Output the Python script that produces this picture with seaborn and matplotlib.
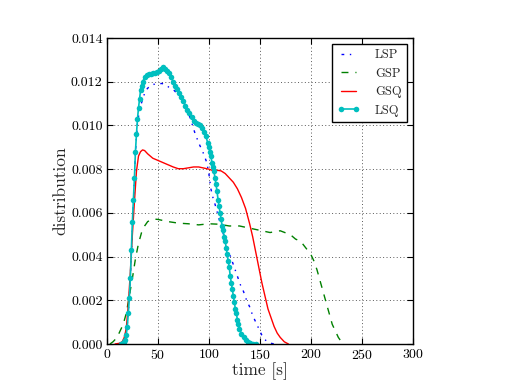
import numpy as np
import pandas as pd
import matplotlib
matplotlib.use('Agg')
import matplotlib.pyplot as plt
import seaborn as sns

# %%
# values (time in s, distribution)
lsp_t = [12, 15, 18, 20, 22, 24, 26, 28, 30, 32, 35, 38, 42, 46, 50, 54, 58, 62, 66, 70,
         74, 78, 82, 86, 90, 94, 98, 100, 102, 104, 106, 109, 113, 116, 119, 122, 125, 128,
         131, 134, 137, 140, 143, 146, 149, 152, 155, 158, 162, 166]
lsp_v = [0, 0.00005, 0.0003, 0.0009, 0.0021, 0.0041, 0.0064, 0.0088, 0.0101, 0.0107, 0.0112,
         0.0116, 0.0118, 0.01188, 0.0119, 0.01192, 0.01185, 0.0117, 0.0116, 0.0114, 0.0112,
         0.0108, 0.0103, 0.0097, 0.0092, 0.0088, 0.0083, 0.0078, 0.0071, 0.0067, 0.0064,
         0.0059, 0.0052, 0.0048, 0.0043, 0.0039, 0.0035, 0.0031, 0.0027, 0.0024, 0.0020,
         0.0017, 0.0013, 0.0010, 0.0007, 0.0004, 0.0002, 0.00008, 0.00002, 0]

gsp_t = [3, 6, 10, 13, 16, 19, 22, 25, 28, 31, 34, 37, 40, 45, 50, 55, 60, 70, 80, 90, 100,
         110, 120, 130, 140, 150, 160, 170, 180, 185, 190, 195, 200, 203, 206, 209, 212, 215,
         218, 221, 224, 227, 230, 234]
gsp_v = [0, 0.0001, 0.0003, 0.0006, 0.0009, 0.0014, 0.0022, 0.0030, 0.0039, 0.0046, 0.0051,
         0.0054, 0.0056, 0.00572, 0.0057, 0.00565, 0.0056, 0.00553, 0.0055, 0.00545, 0.0055,
         0.00548, 0.0054, 0.0054, 0.0053, 0.0052, 0.0051, 0.00518, 0.0050, 0.0048, 0.0047,
         0.0044, 0.0041, 0.0038, 0.0034, 0.0029, 0.0024, 0.0019, 0.0014, 0.0009, 0.0006,
         0.0003, 0.0001, 0]

gsq_t = [8, 12, 15, 17, 19, 21, 23, 25, 27, 29, 31, 33, 35, 37, 40, 45, 50, 55, 60, 65, 70,
         75, 80, 85, 90, 95, 100, 105, 108, 112, 116, 120, 124, 128, 132, 136, 140, 143, 146,
         149, 152, 155, 158, 161, 164, 167, 170, 174, 178]
gsq_v = [0, 0.00003, 0.0001, 0.0003, 0.0007, 0.0018, 0.0033, 0.0050, 0.0065, 0.0079, 0.0086,
         0.0088, 0.00888, 0.00885, 0.0087, 0.0085, 0.0084, 0.0083, 0.0082, 0.0081, 0.00802,
         0.00802, 0.00806, 0.0081, 0.0081, 0.00805, 0.0080, 0.00792, 0.00795, 0.00792, 0.0078,
         0.0076, 0.0074, 0.0071, 0.0067, 0.0062, 0.0055, 0.0049, 0.0042, 0.0035, 0.0028,
         0.0022, 0.0016, 0.0012, 0.0008, 0.0005, 0.0003, 0.0001, 0]

lsq_t = [14, 16, 17, 18, 19, 20, 21, 22, 23, 24, 25, 26, 27, 28, 29, 30, 31, 32, 33, 34, 35,
         37, 39, 41, 43, 45, 47, 49, 51, 53, 55, 57, 59, 61, 63, 65, 67, 69, 71, 73, 75, 77,
         79, 81, 83, 85, 87, 89, 91, 93, 95, 97, 99, 100, 101, 102, 103, 104, 105, 106, 107,
         108, 109, 110, 111, 112, 113, 114, 115, 116, 117, 118, 119, 120, 121, 122, 123, 124,
         125, 126, 127, 128, 129, 130, 132, 134, 136, 138, 140, 143, 146]
lsq_v = [0, 0.00003, 0.00008, 0.0002, 0.00042, 0.0008, 0.0014, 0.0021, 0.0030, 0.0043,
         0.0056, 0.0066, 0.0076, 0.0088, 0.0096, 0.0103, 0.0108, 0.0112, 0.0116, 0.0118,
         0.0120, 0.0122, 0.0123, 0.01235, 0.01237, 0.0124, 0.01242, 0.01245, 0.0125, 0.0126,
         0.01268, 0.0126, 0.0125, 0.0124, 0.0122, 0.0120, 0.0118, 0.01165, 0.0115, 0.0113,
         0.0111, 0.0109, 0.0107, 0.01055, 0.0104, 0.0102, 0.0101, 0.01005, 0.0100, 0.0099,
         0.0097, 0.0095, 0.0092, 0.0090, 0.0088, 0.0086, 0.0083, 0.0081, 0.0079, 0.0076,
         0.0073, 0.0070, 0.0066, 0.0063, 0.0060, 0.0057, 0.0054, 0.0052, 0.0049, 0.0047,
         0.0044, 0.0041, 0.0038, 0.0035, 0.0031, 0.0028, 0.0025, 0.0022, 0.0019, 0.0016,
         0.0014, 0.0011, 0.0009, 0.0007, 0.00045, 0.0003, 0.00018, 0.0001, 0.00005, 0.00002, 0]

# %%
sns.set_style('whitegrid')
plt.rcParams.update({
    'font.family': 'serif',
    'font.serif': ['cmr10', 'DejaVu Serif'],
    'mathtext.fontset': 'cm',
    'axes.formatter.use_mathtext': True,
    'axes.edgecolor': 'black',
    'axes.linewidth': 1.0,
    'grid.color': '0.35',
    'grid.linestyle': (0, (1, 2.5)),
    'grid.linewidth': 0.7,
    'xtick.direction': 'in',
    'ytick.direction': 'in',
    'xtick.top': True,
    'ytick.right': True,
    'xtick.bottom': True,
    'ytick.left': True,
    'xtick.major.size': 4,
    'ytick.major.size': 4,
    'xtick.color': 'black',
    'ytick.color': 'black',
})

fig = plt.figure(figsize=(5.09, 3.82), dpi=100)
ax = fig.add_axes([0.21, 0.0995, 0.601, 0.801])

sns.lineplot(x=lsp_t, y=lsp_v, ax=ax, color='b', lw=1, label='LSP',
             estimator=None, linestyle=(0, (2, 4, 1, 4)))
sns.lineplot(x=gsp_t, y=gsp_v, ax=ax, color='g', lw=1, label='GSP',
             estimator=None, linestyle=(0, (5, 5)))
sns.lineplot(x=gsq_t, y=gsq_v, ax=ax, color='r', lw=1, label='GSQ', estimator=None)
sns.lineplot(x=lsq_t, y=lsq_v, ax=ax, color='c', lw=1.2, label='LSQ', estimator=None,
             marker='o', markersize=4, markeredgewidth=0)

ax.set_xlim(0, 300)
ax.set_ylim(0, 0.014)
ax.set_xticks(np.arange(0, 301, 50))
ax.set_yticks(np.arange(0, 0.0141, 0.002))
ax.set_yticklabels(['%.3f' % v for v in np.arange(0, 0.0141, 0.002)])
ax.tick_params(labelsize=10, pad=3)
ax.set_xlabel('time [s]', fontsize=12.5, labelpad=0)
ax.set_ylabel('distribution', fontsize=12.5, labelpad=2)
ax.grid(True)

leg = ax.legend(loc='upper right', fontsize=9, numpoints=2, fancybox=False,
                framealpha=1, edgecolor='black', handlelength=1.8,
                borderaxespad=0.5, handletextpad=1.2)
leg.get_frame().set_linewidth(1)

fig.savefig('out.png', dpi=100)
